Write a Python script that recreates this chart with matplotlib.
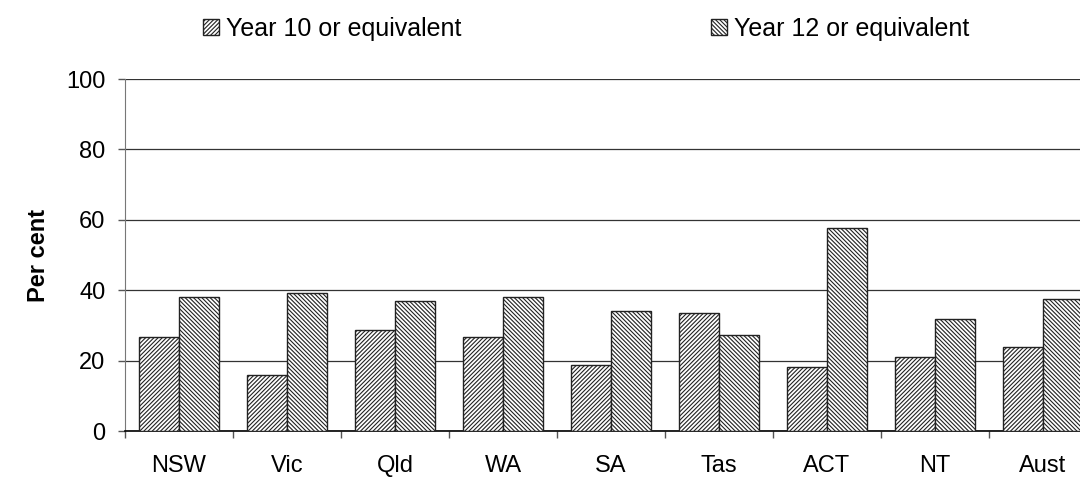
import numpy as np
import matplotlib.pyplot as plt

plt.rcParams['font.family'] = ['Liberation Sans', 'DejaVu Sans']
plt.rcParams['hatch.linewidth'] = 0.8
plt.rcParams['hatch.color'] = '#3a3a3a'

states = ["NSW", "Vic", "Qld", "WA", "SA", "Tas", "ACT", "NT", "Aust"]
year10 = [26.8, 15.9, 28.6, 26.8, 18.8, 33.6, 18.2, 21.0, 23.9]
year12 = [38.2, 39.3, 37.0, 38.2, 34.2, 27.3, 57.8, 31.9, 37.6]

x = np.arange(len(states))
w = 0.37

fig = plt.figure(figsize=(10.8, 4.8), dpi=100)
# the plot area runs a little past the right edge of the figure
ax = fig.add_axes([125 / 1080, 1 - 431 / 480, 972 / 1080, 352 / 480])

ax.bar(x - w / 2, year10, w, color="white", edgecolor="#222222", linewidth=1.0,
       hatch="////////", label="Year 10 or equivalent", zorder=3)
ax.bar(x + w / 2, year12, w, color="white", edgecolor="#222222", linewidth=1.0,
       hatch="\\\\\\\\\\\\\\\\", label="Year 12 or equivalent", zorder=3)

ax.set_xlim(-0.5, len(states) - 0.5)
ax.set_ylim(0, 100)
ax.set_yticks(range(0, 101, 20))
ax.set_xticks(x)
ax.set_xticklabels(states)
ax.set_xticks(np.arange(-0.5, len(states), 1), minor=True)
ax.tick_params(axis="x", which="major", length=0, pad=17, labelsize=17)
ax.tick_params(axis="x", which="minor", length=5, width=1, color="#555555", direction="out")
ax.tick_params(axis="y", length=5, width=1, color="#555555", labelsize=17, pad=9)

ax.yaxis.grid(True, color="#333333", linewidth=0.9, zorder=0)
ax.set_axisbelow(True)
for s in ["top", "right"]:
    ax.spines[s].set_visible(False)
ax.spines["left"].set_color("#777777")
ax.spines["bottom"].set_color("black")
ax.spines["bottom"].set_linewidth(1.2)

ax.set_ylabel("Per cent", fontsize=17, fontweight="bold", labelpad=12)

leg = fig.legend(loc="center left", bbox_to_anchor=(203 / 1080, 1 - 29 / 480), ncol=2,
                 frameon=False, fontsize=18, handlelength=0.64, handleheight=0.64,
                 handletextpad=0.3, columnspacing=9.95, borderpad=0, borderaxespad=0)

fig.savefig("out.png", dpi=100)
